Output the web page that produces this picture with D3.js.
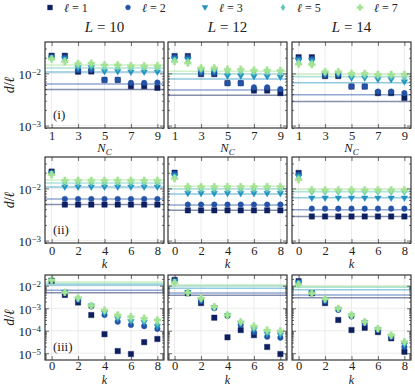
<!DOCTYPE html>
<html>
<head>
<meta charset="utf-8">
<script src="https://cdn.jsdelivr.net/npm/d3@7"></script>
<style>
body { margin: 0; background: #fff; }
svg text { font-family: "Liberation Serif", "DejaVu Serif", serif; fill: #222; }
</style>
</head>
<body>
<svg id="fig" width="415" height="386"></svg>
<script>
var sizes = [10, 12, 14];
var ells = [1, 2, 3, 5, 7];
var ellColors = ["#0d1f5e", "#2452a6", "#2193c2", "#5fc5b5", "#a3e393"];
var ellShapes = ["square", "circle", "tri", "diamond", "plus"];
var ncVals = [1, 2, 3, 4, 5, 6, 7, 8, 9];
var kVals = [0, 1, 2, 3, 4, 5, 6, 7, 8];
var ncTicks = [1, 3, 5, 7, 9];
var kTicks = [0, 2, 4, 6, 8];
var rowTags = ["(i)", "(ii)", "(iii)"];

// horizontal reference lines, one per ell
var refL10 = [0.0049, 0.0063, 0.0107, 0.0127, 0.0145];
var refL12 = [0.0038, 0.0048, 0.0078, 0.0098, 0.0110];
var refL14 = [0.0029, 0.0039, 0.0066, 0.0086, 0.0095];

// row (i): d/ell vs N_C (rows = ell 1,2,3,5,7)
var ncL10 = [
    [0.0218, 0.0218, 0.0108, 0.0109, 0.0075, 0.0075, 0.0057, 0.0057, 0.0053],
    [0.0208, 0.0205, 0.0116, 0.0117, 0.0076, 0.0076, 0.0066, 0.0066, 0.0067],
    [0.0197, 0.0190, 0.0127, 0.0128, 0.0108, 0.0108, 0.0106, 0.0106, 0.0106],
    [0.0190, 0.0178, 0.0139, 0.0140, 0.0127, 0.0127, 0.0125, 0.0125, 0.0125],
    [0.0189, 0.0168, 0.0156, 0.0157, 0.0145, 0.0145, 0.0140, 0.0140, 0.0140]
];
var ncL12 = [
    [0.0215, 0.0215, 0.0097, 0.0097, 0.0065, 0.0065, 0.0047, 0.0047, 0.0042],
    [0.0206, 0.0203, 0.0102, 0.0102, 0.0065, 0.0065, 0.0054, 0.0054, 0.0050],
    [0.0190, 0.0185, 0.0110, 0.0110, 0.0089, 0.0089, 0.0087, 0.0087, 0.0085],
    [0.0178, 0.0170, 0.0119, 0.0119, 0.0106, 0.0106, 0.0104, 0.0104, 0.0102],
    [0.0168, 0.0158, 0.0127, 0.0127, 0.0120, 0.0120, 0.0116, 0.0116, 0.0114]
];
var ncL14 = [
    [0.0204, 0.0204, 0.0089, 0.0089, 0.0056, 0.0056, 0.0042, 0.0042, 0.0034],
    [0.0193, 0.0190, 0.0093, 0.0093, 0.0056, 0.0056, 0.0045, 0.0045, 0.0042],
    [0.0180, 0.0175, 0.0097, 0.0097, 0.0081, 0.0081, 0.0076, 0.0076, 0.0069],
    [0.0165, 0.0160, 0.0102, 0.0102, 0.0091, 0.0091, 0.0087, 0.0087, 0.0083],
    [0.0151, 0.0147, 0.0108, 0.0108, 0.0100, 0.0100, 0.0096, 0.0096, 0.0096]
];

// row (ii): d/ell vs k
var kaL10 = [
    [0.0210, 0.0049, 0.0049, 0.0049, 0.0049, 0.0049, 0.0049, 0.0049, 0.0049],
    [0.0200, 0.0063, 0.0063, 0.0063, 0.0063, 0.0063, 0.0063, 0.0063, 0.0063],
    [0.0195, 0.0106, 0.0106, 0.0106, 0.0106, 0.0106, 0.0106, 0.0106, 0.0106],
    [0.0190, 0.0126, 0.0126, 0.0126, 0.0126, 0.0126, 0.0126, 0.0126, 0.0126],
    [0.0183, 0.0143, 0.0143, 0.0143, 0.0143, 0.0143, 0.0143, 0.0143, 0.0143]
];
var kaL12 = [
    [0.0200, 0.0038, 0.0038, 0.0038, 0.0038, 0.0038, 0.0038, 0.0038, 0.0038],
    [0.0190, 0.0049, 0.0049, 0.0049, 0.0049, 0.0049, 0.0049, 0.0049, 0.0049],
    [0.0175, 0.0080, 0.0080, 0.0080, 0.0080, 0.0080, 0.0080, 0.0080, 0.0080],
    [0.0165, 0.0095, 0.0095, 0.0095, 0.0095, 0.0095, 0.0095, 0.0095, 0.0095],
    [0.0155, 0.0108, 0.0108, 0.0108, 0.0108, 0.0108, 0.0108, 0.0108, 0.0108]
];
var kaL14 = [
    [0.0198, 0.0029, 0.0029, 0.0029, 0.0029, 0.0029, 0.0029, 0.0029, 0.0029],
    [0.0185, 0.0041, 0.0041, 0.0041, 0.0041, 0.0041, 0.0041, 0.0041, 0.0041],
    [0.0170, 0.0065, 0.0065, 0.0065, 0.0065, 0.0065, 0.0065, 0.0065, 0.0065],
    [0.0158, 0.0085, 0.0085, 0.0085, 0.0085, 0.0085, 0.0085, 0.0085, 0.0085],
    [0.0147, 0.0094, 0.0094, 0.0094, 0.0094, 0.0094, 0.0094, 0.0094, 0.0094]
];

// row (iii): d/ell vs k
var kbL10 = [
    [0.0165, 0.0039, 0.0018, 5.0e-4, 7.0e-5, 1.25e-5, 9.2e-6, 3.1e-5, 4.3e-5],
    [0.0170, 0.0051, 0.0023, 1.2e-3, 5.0e-4, 2.5e-4, 1.8e-4, 1.6e-4, 1.2e-4],
    [0.0172, 0.0051, 0.0025, 1.25e-3, 6.0e-4, 3.3e-4, 2.5e-4, 2.3e-4, 1.5e-4],
    [0.0174, 0.0051, 0.0027, 1.28e-3, 7.1e-4, 4.1e-4, 3.1e-4, 2.8e-4, 2.1e-4],
    [0.0176, 0.0051, 0.0029, 1.3e-3, 8.3e-4, 5.0e-4, 4.2e-4, 3.6e-4, 3.0e-4]
];
var kbL12 = [
    [0.0180, 0.0046, 0.0017, 3.8e-4, 5.1e-5, 1.07e-4, 6.4e-5, 1.9e-5, 9.2e-6],
    [0.0165, 0.0049, 0.0021, 1.0e-3, 4.5e-4, 1.8e-4, 8.5e-5, 5.4e-5, 4.9e-5],
    [0.0155, 0.0049, 0.0023, 1.05e-3, 4.7e-4, 2.1e-4, 1.1e-4, 7.1e-5, 6.4e-5],
    [0.0145, 0.0049, 0.0026, 1.1e-3, 4.8e-4, 2.3e-4, 1.3e-4, 8.8e-5, 8.0e-5],
    [0.0136, 0.0049, 0.0028, 1.16e-3, 5.0e-4, 2.5e-4, 1.6e-4, 1.07e-4, 9.8e-5]
];
var kbL14 = [
    [0.0160, 0.0046, 0.0017, 3.0e-4, 1.07e-4, 1.35e-4, 8.7e-5, 4.6e-5, 1.16e-5],
    [0.0145, 0.0046, 0.0020, 8.3e-4, 4.3e-4, 2.1e-4, 1.07e-4, 5.2e-5, 1.9e-5],
    [0.0132, 0.0046, 0.0023, 8.9e-4, 4.5e-4, 2.3e-4, 1.12e-4, 5.6e-5, 2.3e-5],
    [0.0123, 0.0046, 0.0025, 9.4e-4, 4.8e-4, 2.4e-4, 1.18e-4, 6.0e-5, 2.8e-5],
    [0.0115, 0.0046, 0.0026, 9.9e-4, 5.0e-4, 2.5e-4, 1.25e-4, 6.4e-5, 3.3e-5]
];

var refLines = [refL10, refL12, refL14];
var rowData = [
    [ncL10, ncL12, ncL14],
    [kaL10, kaL12, kaL14],
    [kbL10, kbL12, kbL14]
];

var svg = d3.select("#fig");

var colX = [45, 168, 292];
var panelW = 119;
var rowY = [42, 157, 275];
var rowH = [86, 86, 85];
var rowDomains = [[9e-4, 4e-2], [9e-4, 4e-2], [5e-6, 3e-2]];
var rowDecades = [[1e-3, 1e-2], [1e-3, 1e-2], [1e-5, 1e-4, 1e-3, 1e-2]];
var rowLabelDy = [24, 24.5, 24];
var rowTickPad = [3, 3, 1];
var rowLabelSize = ["12.5px", "12.5px", "12px"];

function markerPath(shape, s) {
    s = s || 1;
    if (shape == "square") {
        return "M" + (-2.7 * s) + "," + (-2.7 * s) + "h" + (5.4 * s) + "v" + (5.4 * s) + "h" + (-5.4 * s) + "Z";
    }
    if (shape == "circle") {
        return d3.symbol(d3.symbolCircle, 24 * s * s)();
    }
    if (shape == "tri") {
        return "M" + (-3.3 * s) + "," + (-2.2 * s) + "L" + (3.3 * s) + "," + (-2.2 * s) + "L0," + (3.4 * s) + "Z";
    }
    if (shape == "diamond") {
        return "M0," + (-3.5 * s) + "L" + (2.3 * s) + ",0L0," + (3.5 * s) + "L" + (-2.3 * s) + ",0Z";
    }
    return d3.symbol(d3.symbolCross, 26 * s * s)();
}

function minorTicks(domain) {
    var res = [];
    for (var e = -7; e <= 0; e++) {
        for (var m = 2; m <= 9; m++) {
            var v = m * Math.pow(10, e);
            if (v > domain[0] && v < domain[1]) res.push(v);
        }
    }
    return res;
}

function superLabel(sel) {
    sel.selectAll(".tick text").each(function(d) {
        var t = d3.select(this);
        t.text(null);
        t.append("tspan").text("10");
        t.append("tspan").attr("dy", "-0.45em").style("font-size", "9px")
            .text("\u2212" + Math.round(-Math.log10(d)));
    });
}

var defs = svg.append("defs");

for (var r = 0; r < 3; r++) {
    var y0 = rowY[r], h = rowH[r];
    var yScale = d3.scaleLog().domain(rowDomains[r]).range([y0 + h, y0]);
    var xVals = r == 0 ? ncVals : kVals;
    var xTicks = r == 0 ? ncTicks : kTicks;
    var xDomain = r == 0 ? [0.5, 9.5] : [-0.5, 8.5];

    for (var c = 0; c < 3; c++) {
        var x0 = colX[c];
        var xScale = d3.scaleLinear().domain(xDomain).range([x0, x0 + panelW]);
        var clipId = "clip" + r + c;
        defs.append("clipPath").attr("id", clipId)
            .append("rect").attr("x", x0).attr("y", y0).attr("width", panelW).attr("height", h);

        var g = svg.append("g");

        // grid
        g.selectAll(".vg").data(xTicks).enter().append("line")
            .attr("x1", function(d) { return xScale(d); })
            .attr("x2", function(d) { return xScale(d); })
            .attr("y1", y0).attr("y2", y0 + h)
            .attr("stroke", "#e6e6e6").attr("stroke-width", 0.8);
        g.selectAll(".hg").data(rowDecades[r]).enter().append("line")
            .attr("x1", x0).attr("x2", x0 + panelW)
            .attr("y1", function(d) { return yScale(d); })
            .attr("y2", function(d) { return yScale(d); })
            .attr("stroke", "#e6e6e6").attr("stroke-width", 0.8);

        var pg = g.append("g").attr("clip-path", "url(#" + clipId + ")");

        // reference lines
        pg.selectAll(".ref").data(refLines[c]).enter().append("line")
            .attr("x1", x0).attr("x2", x0 + panelW)
            .attr("y1", function(d) { return yScale(d); })
            .attr("y2", function(d) { return yScale(d); })
            .attr("stroke", function(d, i) { return ellColors[i]; })
            .attr("stroke-width", 1.5)
            .attr("stroke-opacity", 0.5);

        // markers
        var series = rowData[r][c];
        series.forEach(function(vals, i) {
            pg.selectAll(".m" + i).data(vals).enter().append("path")
                .attr("d", markerPath(ellShapes[i]))
                .attr("transform", function(d, j) {
                    return "translate(" + xScale(xVals[j]) + "," + yScale(d) + ")";
                })
                .attr("fill", ellColors[i])
                .attr("stroke", ellColors[i])
                .attr("stroke-opacity", 0.4)
                .attr("stroke-width", 1);
        });

        // axes (ticks inside)
        var axL = d3.axisLeft(yScale).tickValues(rowDecades[r]).tickSizeInner(-4).tickSizeOuter(0).tickPadding(4);
        var axLm = d3.axisLeft(yScale).tickValues(minorTicks(rowDomains[r])).tickSizeInner(-2).tickSizeOuter(0).tickFormat("");
        var axR = d3.axisRight(yScale).tickValues(rowDecades[r]).tickSizeInner(-4).tickSizeOuter(0).tickFormat("");
        var axRm = d3.axisRight(yScale).tickValues(minorTicks(rowDomains[r])).tickSizeInner(-2).tickSizeOuter(0).tickFormat("");
        var axB = d3.axisBottom(xScale).tickValues(xTicks).tickSizeInner(-4).tickSizeOuter(0).tickPadding(rowTickPad[r]);
        var axT = d3.axisTop(xScale).tickValues(xTicks).tickSizeInner(-4).tickSizeOuter(0).tickFormat("");

        var gl = g.append("g").attr("transform", "translate(" + x0 + ",0)").call(axL);
        gl.attr("font-family", null);
        if (c == 0) {
            gl.selectAll("text").style("font-size", "13px").attr("dy", "0.38em");
            superLabel(gl);
        } else {
            gl.selectAll("text").remove();
        }
        g.append("g").attr("transform", "translate(" + x0 + ",0)").call(axLm);
        g.append("g").attr("transform", "translate(" + (x0 + panelW) + ",0)").call(axR);
        g.append("g").attr("transform", "translate(" + (x0 + panelW) + ",0)").call(axRm);
        var gb = g.append("g").attr("transform", "translate(0," + (y0 + h) + ")").call(axB);
        gb.attr("font-family", null);
        gb.selectAll("text").style("font-size", "12.5px");
        g.append("g").attr("transform", "translate(0," + y0 + ")").call(axT);
        g.selectAll(".domain").remove();
        g.selectAll(".tick line").attr("stroke", "#333").attr("stroke-width", 0.7);

        // frame
        g.append("rect").attr("x", x0).attr("y", y0).attr("width", panelW).attr("height", h)
            .attr("fill", "none").attr("stroke", "#222").attr("stroke-width", 1.1);

        // x label
        var xl = g.append("text").attr("x", x0 + panelW / 2).attr("y", y0 + h + rowLabelDy[r])
            .attr("text-anchor", "middle").style("font-size", rowLabelSize[r]).style("font-style", "italic");
        if (r == 0) {
            xl.append("tspan").text("N");
            xl.append("tspan").attr("dy", "0.3em").style("font-size", "9px").text("C");
        } else {
            xl.text("k");
        }

        if (c == 0) {
            g.append("text").attr("x", x0 + 8).attr("y", y0 + h - 9)
                .style("font-size", "13px").text(rowTags[r]);
        }
    }

    // y label
    var yl = svg.append("text")
        .attr("transform", "translate(14," + (y0 + h / 2) + ") rotate(-90)")
        .attr("text-anchor", "middle").style("font-size", "14px");
    yl.append("tspan").style("font-style", "italic").text("d");
    yl.append("tspan").text("/");
    yl.append("tspan").style("font-style", "italic").text("\u2113");
}

// column titles
sizes.forEach(function(L, c) {
    var t = svg.append("text").attr("x", colX[c] + panelW / 2).attr("y", 32)
        .attr("text-anchor", "middle").style("font-size", "15px");
    t.append("tspan").style("font-style", "italic").text("L");
    t.append("tspan").text(" = " + L);
});

// legend
var legX = [50, 128, 205, 283, 360];
ells.forEach(function(l, i) {
    svg.append("path").attr("d", markerPath(ellShapes[i], 0.9))
        .attr("transform", "translate(" + legX[i] + ",7.5)")
        .attr("fill", ellColors[i]).attr("stroke", ellColors[i])
        .attr("stroke-opacity", 0.4).attr("stroke-width", 1);
    var t = svg.append("text").attr("x", legX[i] + 14).attr("y", 11.5).style("font-size", "12px");
    t.append("tspan").style("font-style", "italic").text("\u2113");
    t.append("tspan").text(" = " + l);
});
</script>
</body>
</html>
